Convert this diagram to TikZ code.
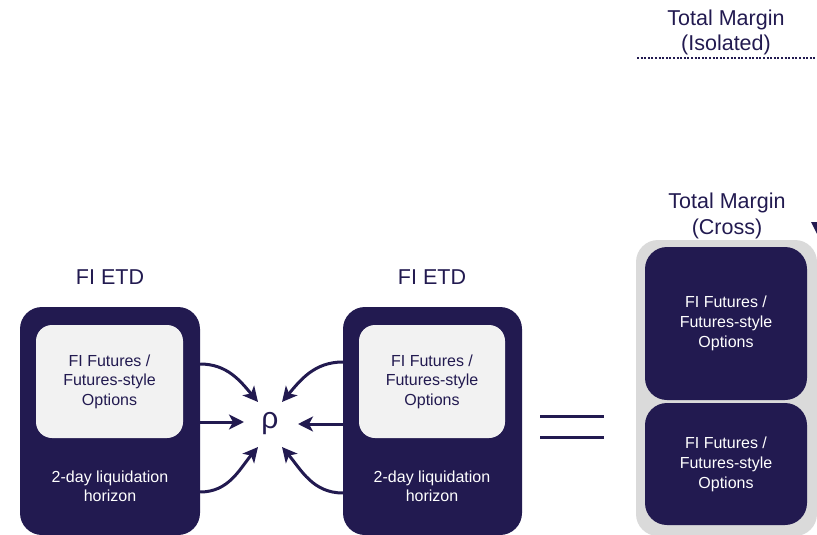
\documentclass[tikz,border=0pt]{standalone}
\usepackage{fontspec}
\setmainfont{Liberation Sans}
\usetikzlibrary{arrows.meta}
\definecolor{navy}{HTML}{221A50}
\definecolor{lightbox}{HTML}{F2F2F2}
\definecolor{crossgray}{HTML}{DADADA}
\begin{document}
\begin{tikzpicture}[x=1pt,y=-1pt,
  outerbox/.style={draw=none,fill=navy,rounded corners=22pt,inner sep=0pt},
  innerbox/.style={draw=none,fill=lightbox,rounded corners=16pt,inner sep=0pt,text=navy,align=center,font=\fontsize{16}{19.5}\selectfont},
  darkbox/.style={draw=none,fill=navy,rounded corners=22pt,inner sep=0pt,text=white,align=center,font=\fontsize{16}{20}\selectfont},
  whitetxt/.style={text=white,align=center,font=\fontsize{16}{19}\selectfont},
  title/.style={text=navy,align=center,font=\fontsize{21.5}{25.5}\selectfont},
  arr/.style={draw=navy,line width=3pt,-{Stealth[length=15pt,width=15pt,inset=4pt]}},
]
\useasboundingbox (0,0) rectangle (817,535);
\clip (0,0) rectangle (817,535);

% left ETD
\node[title] (t1) at (110,277) {FI ETD};
\node[outerbox,minimum width=180pt,minimum height=228pt] (L) at (110,421) {};
\node[innerbox,minimum width=147pt,minimum height=113pt] (Li) at (109.5,381.5) {FI Futures /\\Futures-style\\Options};
\node[whitetxt] (Lh) at (110,486) {2-day liquidation\\horizon};

% right ETD
\node[title] (t2) at (432,277) {FI ETD};
\node[outerbox,minimum width=179pt,minimum height=228pt] (R) at (432.5,421) {};
\node[innerbox,minimum width=146pt,minimum height=113pt] (Ri) at (432,381.5) {FI Futures /\\Futures-style\\Options};
\node[whitetxt] (Rh) at (432,486) {2-day liquidation\\horizon};

% rho
\node[text=navy,font=\fontsize{30}{30}\selectfont,inner sep=0pt] (rho) at (270,424) {ρ};
\coordinate (a1) at (258,402);
\coordinate (a2) at (244,422);
\coordinate (a3) at (258,447);
\coordinate (b1) at (282,402);
\coordinate (b2) at (298,424);
\coordinate (b3) at (282,447);
\draw[arr] (L.east |- 0,364) to[out=0,in=130] (a1);
\draw[arr] (L.east |- 0,422) -- (a2);
\draw[arr] (L.east |- 0,492) to[out=0,in=-130] (a3);
\draw[arr] (R.west |- 0,362) to[out=180,in=50] (b1);
\draw[arr] (R.west |- 0,424) -- (b2);
\draw[arr] (R.west |- 0,493) to[out=180,in=-50] (b3);

% equals
\coordinate (e1) at (540,416.5);
\coordinate (e2) at (604,416.5);
\coordinate (e3) at (540,437);
\coordinate (e4) at (604,437);
\draw[navy,line width=3pt] (e1) -- (e2);
\draw[navy,line width=3pt] (e3) -- (e4);

% cross
\node[title] (tc) at (727,216) {Total Margin\\(Cross)};
\node[draw=none,fill=crossgray,rounded corners=22pt,minimum width=181pt,minimum height=296pt,inner sep=0pt] (C) at (726.5,388) {};
\node[darkbox,minimum width=162pt,minimum height=153pt] (C1) at (726,323.5) {FI Futures /\\Futures-style\\Options};
\node[darkbox,minimum width=162pt,minimum height=122pt] (C2) at (726,464) {FI Futures /\\Futures-style\\Options};
\fill[navy] (811,222) -- (821,222) -- (818,236) -- cycle;

% isolated
\node[title] (ti) at (726,32.5) {Total Margin\\(Isolated)};
\coordinate (d1) at (637,58);
\coordinate (d2) at (815,58);
\draw[navy,line width=2.5pt,dash pattern=on 2pt off 1.6pt] (d1) -- (d2);
\end{tikzpicture}
\end{document}
